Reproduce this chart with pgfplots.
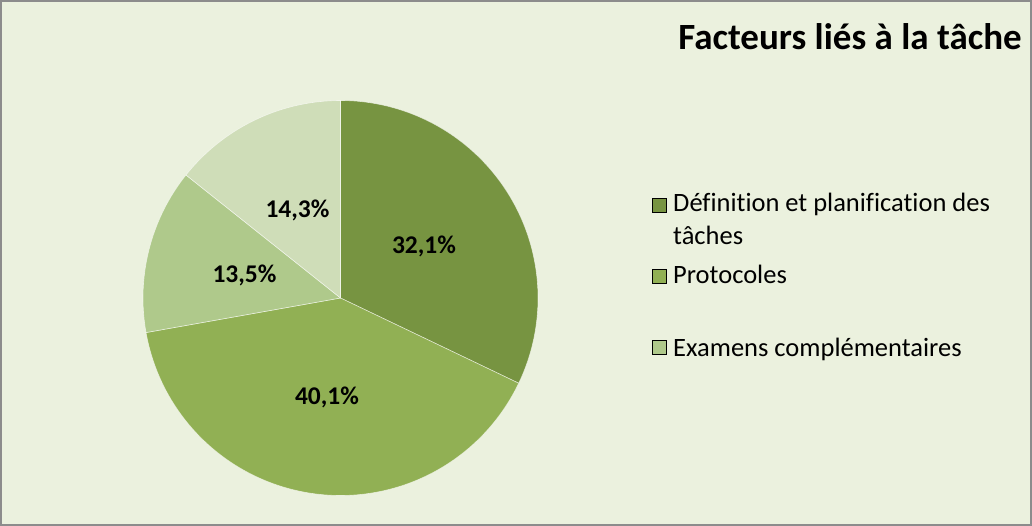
\documentclass[border=0pt]{standalone}
\usepackage{fontspec}
\setmainfont{Carlito}[Ligatures=NoCommon]
\usepackage{pgfplots}
\usepackage{pgfplotstable}
\pgfplotsset{compat=1.18}
\definecolor{bg}{HTML}{EBF1DE}
\definecolor{frame}{HTML}{8C8C8C}
\definecolor{cA}{HTML}{779441}
\definecolor{cB}{HTML}{91B054}
\definecolor{cC}{HTML}{AFC98B}
\definecolor{cD}{HTML}{CFDDB8}
\tikzset{legtext/.style={anchor=base west, inner sep=0pt, font=\fontsize{26.5}{34}\selectfont}}
\pgfplotstableread{
slice pct
1 32.1
2 40.1
3 13.5
4 14.3
}\piedata
\pgfplotstablegetelem{0}{pct}\of\piedata\pgfmathsetmacro\pA{\pgfplotsretval}
\pgfplotstablegetelem{1}{pct}\of\piedata\pgfmathsetmacro\pB{\pgfplotsretval}
\pgfplotstablegetelem{2}{pct}\of\piedata\pgfmathsetmacro\pC{\pgfplotsretval}
\pgfplotstablegetelem{3}{pct}\of\piedata\pgfmathsetmacro\pD{\pgfplotsretval}
\pgfmathsetmacro\aO{90}
\pgfmathsetmacro\aA{\aO-3.6*\pA}
\pgfmathsetmacro\aB{\aA-3.6*\pB}
\pgfmathsetmacro\aC{\aB-3.6*\pC}
\pgfmathsetmacro\aD{\aC-3.6*\pD}
\newcommand\cx{340.5}
\newcommand\cy{298}
\newcommand\rr{197.5}
\begin{document}
\begin{tikzpicture}
\begin{axis}[
  width=1030pt, height=524pt, scale only axis,
  xmin=1, xmax=1031, ymin=1, ymax=525, y dir=reverse,
  ticks=none,
  axis line style={draw=frame, line width=2pt},
  axis background/.style={fill=bg},
  clip=false,
]
\addplot[fill=cA, draw=white, draw opacity=0.6, line width=0.6pt, domain=\aA:\aO, samples=120]
  ({\cx+\rr*cos(x)},{\cy-\rr*sin(x)}) -- (axis cs:\cx,\cy) -- cycle;
\addplot[fill=cB, draw=white, draw opacity=0.6, line width=0.6pt, domain=\aB:\aA, samples=140]
  ({\cx+\rr*cos(x)},{\cy-\rr*sin(x)}) -- (axis cs:\cx,\cy) -- cycle;
\addplot[fill=cC, draw=white, draw opacity=0.6, line width=0.6pt, domain=\aC:\aB, samples=60]
  ({\cx+\rr*cos(x)},{\cy-\rr*sin(x)}) -- (axis cs:\cx,\cy) -- cycle;
\addplot[fill=cD, draw=white, draw opacity=0.6, line width=0.6pt, domain=\aD:\aC, samples=60]
  ({\cx+\rr*cos(x)},{\cy-\rr*sin(x)}) -- (axis cs:\cx,\cy) -- cycle;
\addplot[draw=none, mark=none, nodes near coords, point meta=explicit symbolic,
  nodes near coords align=center,
  every node near coord/.append style={font=\bfseries\fontsize{25.5}{30}\selectfont, inner sep=0pt, anchor=center}]
  coordinates {(424,246) [32,1\%] (327,397) [40,1\%] (244.5,275) [13,5\%] (297.5,210) [14,3\%]};
\addplot[only marks, mark=square*, mark size=7pt, mark options={draw=none, fill=cA}] coordinates {(659,205)};
\addplot[only marks, mark=square*, mark size=7pt, mark options={draw=none, fill=cB}] coordinates {(659,276.5)};
\addplot[only marks, mark=square*, mark size=7pt, mark options={draw=none, fill=cC}] coordinates {(659,347.5)};
\node[legtext] at (axis cs:673,212) {Définition et planification des};
\node[legtext] at (axis cs:673,245) {tâches};
\node[legtext] at (axis cs:673,284) {Protocoles};
\node[legtext] at (axis cs:673,356) {Examens complémentaires};
\node[anchor=base, inner sep=0pt, font=\bfseries\fontsize{37}{44}\selectfont] at (axis cs:850,50) {Facteurs liés à la tâche};
\end{axis}
\end{tikzpicture}
\end{document}
